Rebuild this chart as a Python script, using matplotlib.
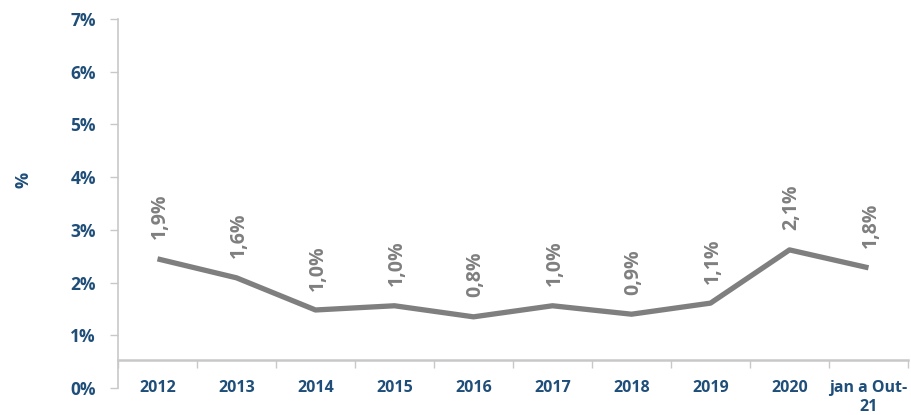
import matplotlib
matplotlib.use("Agg")
import matplotlib.pyplot as plt
from matplotlib.ticker import FixedLocator

categories = ["2012", "2013", "2014", "2015", "2016", "2017", "2018", "2019", "2020", "jan a Out-\n21"]
values = [1.92, 1.56, 0.95, 1.03, 0.82, 1.03, 0.87, 1.08, 2.09, 1.75]
value_labels = ["1,9%", "1,6%", "1,0%", "1,0%", "0,8%", "1,0%", "0,9%", "1,1%", "2,1%", "1,8%"]
yticks = [0, 1, 2, 3, 4, 5, 6, 7]
ytick_labels = ["0%", "1%", "2%", "3%", "4%", "5%", "6%", "7%"]

BLUE = "#1F4E79"
GREY = "#7F7F7F"
AXGREY = "#C8C8C8"
FONT = ["Open Sans", "DejaVu Sans"]

fig = plt.figure(figsize=(9.12, 4.15), dpi=100)
ax = fig.add_axes([118 / 912, 27 / 415, 790 / 912, 369 / 415])

x = list(range(len(categories)))
axis_cross = 0.53

ax.set_ylim(0, 7)
ax.set_xlim(-0.5, len(categories) - 0.5)
ax.set_yticks(yticks)
ax.set_yticklabels(ytick_labels)
ax.tick_params(axis="y", length=6, width=1, color=AXGREY, pad=10)

ax.set_xticks(x)
ax.set_xticklabels(categories)
ax.xaxis.set_minor_locator(FixedLocator([i - 0.5 for i in range(len(categories) + 1)]))
ax.tick_params(axis="x", which="major", length=0, pad=14)
ax.tick_params(axis="x", which="minor", length=6, width=1, color=AXGREY)

for s in ["top", "right"]:
    ax.spines[s].set_visible(False)
ax.spines["left"].set_color(AXGREY)
ax.spines["left"].set_linewidth(1.2)
ax.spines["bottom"].set_color(AXGREY)
ax.spines["bottom"].set_linewidth(1.8)
ax.spines["bottom"].set_position(("data", axis_cross))

ax2 = ax.twinx()
ax2.set_ylim(-axis_cross, 7 - axis_cross)
ax2.axis("off")
ax2.plot(x, values, color=GREY, linewidth=3.8, solid_joinstyle="round", solid_capstyle="butt")
for xi, v, lab in zip(x, values, value_labels):
    ax2.annotate(lab, (xi, v), xytext=(1.5, 14), textcoords="offset points",
                 rotation=90, ha="center", va="bottom", fontsize=14, fontweight="bold",
                 color=GREY, family=FONT)

fig.text(24 / 912, 1 - 180 / 415, "%", rotation=90, ha="center", va="center",
         fontsize=13, fontweight="bold", color=BLUE, family=FONT)

for lab in ax.get_yticklabels():
    lab.set_fontsize(12.5)
    lab.set_fontweight("bold")
    lab.set_color(BLUE)
    lab.set_family(FONT)
for lab in ax.get_xticklabels():
    lab.set_fontsize(11.5)
    lab.set_fontweight("bold")
    lab.set_color(BLUE)
    lab.set_family(FONT)
    lab.set_linespacing(1.3)

fig.savefig("out.png", dpi=100)
